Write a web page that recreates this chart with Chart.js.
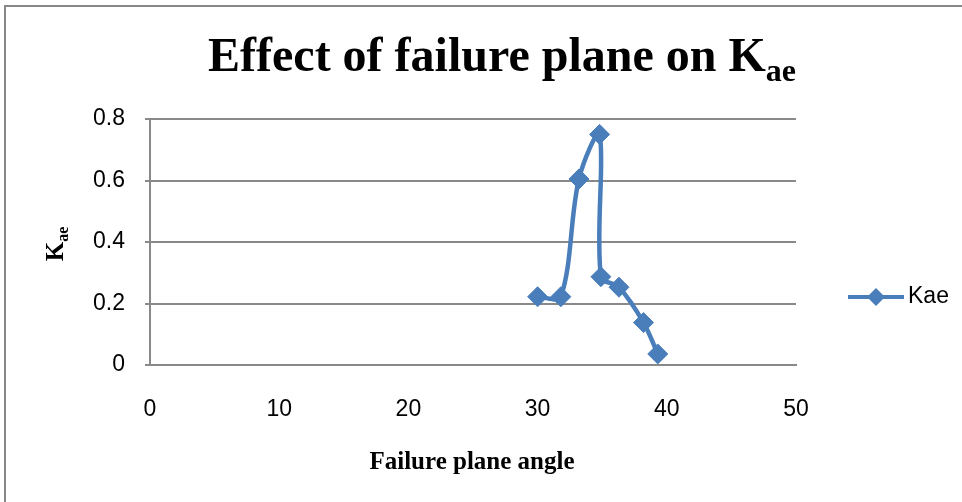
<!DOCTYPE html>
<html>
<head>
<meta charset="utf-8">
<script src="https://cdn.jsdelivr.net/npm/chart.js@4/dist/chart.umd.min.js"></script>
<style>
  html, body { margin: 0; padding: 0; background: #fff; }
  #wrap { width: 962px; height: 502px; }
</style>
</head>
<body>
<div id="wrap"><canvas id="kaeChart" width="962" height="502"></canvas></div>
<script>
// values
var angles = [30, 31.8, 33.2, 34.8, 34.9, 36.3, 38.2, 39.3];
var kae    = [0.222, 0.222, 0.605, 0.75, 0.287, 0.253, 0.138, 0.036];
var xTicks = [0, 10, 20, 30, 40, 50];
var yTicks = [0, 0.2, 0.4, 0.6, 0.8];
var seriesName = "Kae";

var blue = "#4a7ebb";
var grey = "#898989";
var tickFont = "Liberation Sans";
var serif = "Liberation Serif";

var points = angles.map(function (a, i) { return { x: a, y: kae[i] }; });

// frame, titles with subscripts, legend
var decor = {
  id: "decor",
  beforeDraw: function (chart) {
    var ctx = chart.ctx;
    ctx.save();
    ctx.strokeStyle = grey;
    ctx.lineWidth = 2;
    ctx.beginPath();
    ctx.moveTo(5, 502);
    ctx.lineTo(5, 6);
    ctx.lineTo(962, 6);
    ctx.stroke();
    ctx.restore();
  },
  afterDraw: function (chart) {
    var ctx = chart.ctx;
    ctx.save();
    ctx.fillStyle = "#000";
    ctx.textBaseline = "alphabetic";

    // main title
    var main = "Effect of failure plane on K";
    ctx.font = "bold 48px '" + serif + "'";
    var w1 = ctx.measureText(main).width;
    ctx.font = "bold 32px '" + serif + "'";
    var w2 = ctx.measureText("ae").width;
    var start = 502 - (w1 + w2) / 2;
    ctx.font = "bold 48px '" + serif + "'";
    ctx.textAlign = "left";
    ctx.fillText(main, start, 71);
    ctx.font = "bold 32px '" + serif + "'";
    ctx.fillText("ae", start + w1, 81);

    // x title
    ctx.font = "bold 25px '" + serif + "'";
    ctx.textAlign = "center";
    ctx.fillText("Failure plane angle", 472, 469);

    // y title, rotated
    ctx.save();
    ctx.translate(63, 244);
    ctx.rotate(-Math.PI / 2);
    ctx.textAlign = "left";
    ctx.font = "bold 25px '" + serif + "'";
    var kw = ctx.measureText("K").width;
    ctx.font = "bold 16px '" + serif + "'";
    var sw = ctx.measureText("ae").width;
    var s = -(kw + sw) / 2;
    ctx.font = "bold 25px '" + serif + "'";
    ctx.fillText("K", s, 0);
    ctx.font = "bold 16px '" + serif + "'";
    ctx.fillText("ae", s + kw, 5);
    ctx.restore();

    // legend
    var ly = 297;
    ctx.strokeStyle = blue;
    ctx.lineWidth = 4;
    ctx.beginPath();
    ctx.moveTo(848, ly);
    ctx.lineTo(904, ly);
    ctx.stroke();
    ctx.fillStyle = blue;
    ctx.beginPath();
    ctx.moveTo(876, ly - 9);
    ctx.lineTo(885, ly);
    ctx.lineTo(876, ly + 9);
    ctx.lineTo(867, ly);
    ctx.closePath();
    ctx.fill();
    ctx.fillStyle = "#000";
    ctx.font = "23px '" + tickFont + "'";
    ctx.textAlign = "left";
    ctx.textBaseline = "middle";
    ctx.fillText(seriesName, 908, ly);
    ctx.restore();
  }
};

Chart.defaults.font.family = tickFont;
Chart.defaults.color = "#000";

new Chart(document.getElementById("kaeChart"), {
  type: "line",
  data: {
    datasets: [{
      label: seriesName,
      data: points,
      borderColor: blue,
      backgroundColor: blue,
      borderWidth: 4.5,
      tension: 0.33,
      pointStyle: "rectRot",
      pointRadius: 10,
      pointBorderWidth: 1,
      pointBorderColor: blue,
      pointBackgroundColor: blue,
      clip: false
    }]
  },
  options: {
    responsive: false,
    animation: false,
    events: [],
    layout: { padding: { left: 0, top: 119, right: 166, bottom: 0 } },
    plugins: { legend: { display: false }, title: { display: false }, tooltip: { enabled: false } },
    scales: {
      x: {
        type: "linear",
        min: 0,
        max: 50,
        afterBuildTicks: function (s) { s.ticks = xTicks.map(function (v) { return { value: v }; }); },
        afterFit: function (s) { s.height = 137; },
        grid: { display: false, drawTicks: false },
        border: { display: true, color: grey, width: 2 },
        ticks: { padding: 31, font: { size: 23 }, color: "#000" }
      },
      y: {
        min: 0,
        max: 0.8,
        afterBuildTicks: function (s) { s.ticks = yTicks.map(function (v) { return { value: v }; }); },
        afterFit: function (s) { s.width = 150; },
        grid: { color: grey, lineWidth: 2, tickLength: 5, drawTicks: true },
        border: { display: true, color: grey, width: 2 },
        ticks: {
          padding: 20,
          font: { size: 23 },
          color: "#000",
          callback: function (v) { return v === 0 ? "0" : v.toFixed(1); }
        }
      }
    }
  },
  plugins: [decor]
});
</script>
</body>
</html>
